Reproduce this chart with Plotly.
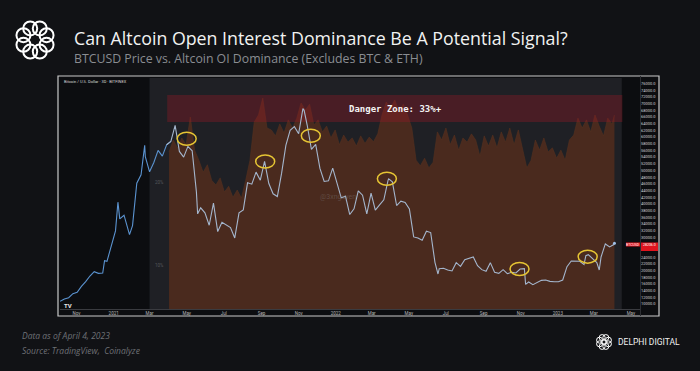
import numpy as np
import pandas as pd
import plotly.graph_objects as go

W, H = 700, 371

# ---------------- data ----------------
# BTCUSD weekly closes (k USD), starting 2020-10-05
btc_start = "2020-10-05"
btc_weekly = [
    10.8, 11.5, 11.9, 13.1, 13.5, 15.3, 16.7, 18.4, 19.7, 19.2, 19.3, 22.8, 27.0,
    31.9, 35.5, 36.6, 32.3, 33.5, 46.2, 48.7, 54.1, 49.6, 52.4, 56.0, 54.3, 57.7,
    58.7, 63.5, 55.7, 54.0, 57.2, 55.9, 43.5, 38.8, 37.3, 33.6, 40.2, 31.7, 34.5,
    33.8, 32.9, 29.8, 37.3, 38.2, 46.3, 45.9, 49.5, 47.1, 52.7, 46.1, 43.0, 42.2,
    49.2, 57.5, 62.0, 63.1, 61.0, 68.5, 63.6, 56.3, 57.8, 50.6, 46.7, 46.9, 50.7,
    46.4, 41.8, 42.3, 36.8, 38.5, 43.9, 42.6, 37.0, 43.2, 38.1, 39.7, 41.2, 47.1,
    46.6, 39.5, 40.8, 40.4, 38.5, 30.1, 29.8, 29.1, 31.8, 31.4, 22.5, 20.6, 20.7,
    20.2, 19.9, 22.4, 21.3, 23.3, 23.8, 24.1, 21.5, 20.3, 19.8, 22.4, 19.5, 19.2,
    20.3, 19.1, 19.5, 19.3, 20.5, 20.6, 16.6, 15.8, 16.4, 17.1, 17.2, 16.8, 16.7,
    16.7, 17.2, 21.2, 22.9, 22.8, 22.8, 21.8, 24.8, 23.5, 22.4, 24.1, 28.0, 27.1,
    27.8,
]
btc_extra_dates = ["2020-12-17", "2021-01-08", "2021-01-27", "2021-02-21", "2021-05-19",
                   "2021-11-10", "2022-03-29", "2022-06-18", "2022-11-09", "2023-02-16",
                   "2023-03-10", "2023-04-04"]
btc_extra_price = [23.0, 40.5, 30.8, 57.5, 37.0, 68.0, 47.5, 19.0, 15.9, 24.5, 20.2, 28.2]

# Altcoin OI dominance (%), weekly from 2021-04-02, last point 2023-04-04
oi_start = "2021-04-02"
oi_weekly = [
    25.7, 28.4, 26.6, 28.9, 27.3, 34.4, 26.1, 24.0, 21.7, 23.1, 20.3, 19.5, 20.7,
    18.4, 19.3, 17.6, 18.7, 17.5, 20.3, 24.0, 33.0, 35.0, 40.3, 31.4, 30.9, 29.4,
    32.5, 30.1, 33.6, 31.4, 34.1, 38.7, 36.5, 38.3, 32.2, 33.6, 30.4, 31.9, 28.9,
    30.9, 27.3, 29.6, 27.9, 28.9, 27.0, 29.4, 27.6, 29.1, 28.0, 29.9, 35.0, 39.0,
    37.1, 39.7, 35.9, 38.3, 35.0, 31.4, 24.0, 22.9, 24.4, 22.5, 23.6, 30.4, 28.4,
    31.4, 27.3, 29.6, 26.1, 28.9, 27.9, 29.9, 28.4, 24.8, 29.4, 27.0, 29.6, 26.6,
    30.4, 27.9, 31.4, 27.3, 30.9, 26.1, 22.5, 24.0, 28.4, 26.1, 28.9, 25.7, 26.6,
    24.4, 26.1, 24.0, 28.4, 29.6, 34.1, 31.4, 33.6, 30.4, 35.0, 31.9, 29.4, 34.1,
    32.5,
]
oi_last_date, oi_last_value = "2023-04-04", 35.0

danger_low, danger_high = 33.0, 41.4
danger_start, danger_end = "2021-03-30", "2023-04-17"
panel_start, panel_end = "2021-03-01", "2023-04-16"

# highlighted local tops (date, price k)
hl_dates = ["2021-05-01", "2021-09-07", "2021-11-21", "2022-03-26", "2022-10-30", "2023-02-19"]
hl_price = [59.5, 52.7, 60.4, 47.5, 20.5, 24.2]

last_price = 28206.0

x_tickvals = ["2020-11-01", "2021-01-01", "2021-03-01", "2021-05-01", "2021-07-01",
              "2021-09-01", "2021-11-01", "2022-01-01", "2022-03-01", "2022-05-01",
              "2022-07-01", "2022-09-01", "2022-11-01", "2023-01-01", "2023-03-01",
              "2023-05-01"]
x_ticktext = ["Nov", "2021", "Mar", "May", "Jul", "Sep", "Nov", "2022", "Mar", "May",
              "Jul", "Sep", "Nov", "2023", "Mar", "May"]
price_ticks = [10, 12, 14, 16, 18, 20, 22, 24, 30, 32, 34, 36, 38, 40, 42, 44, 46, 48,
               50, 52, 54, 56, 58, 60, 62, 64, 66, 68, 70, 72, 74, 76]
oi_labels = [10, 20]

# ---------------- build series ----------------
btc_dates = list(pd.date_range(btc_start, periods=len(btc_weekly), freq="7D"))
bdf = pd.DataFrame({"d": btc_dates + list(pd.to_datetime(btc_extra_dates)),
                    "p": btc_weekly + btc_extra_price}).sort_values("d")
bdf = bdf.drop_duplicates("d", keep="last").reset_index(drop=True)
split = pd.Timestamp(oi_start)
seg1 = bdf[bdf["d"] <= split]
seg1 = pd.concat([seg1, bdf[bdf["d"] > split].head(1)])
seg2 = bdf[bdf["d"] >= seg1["d"].iloc[-2]]

oi_dates = list(pd.date_range(oi_start, periods=len(oi_weekly), freq="7D")) + [pd.Timestamp(oi_last_date)]
oi_vals = oi_weekly + [oi_last_value]

def px(x):
    return x / W

def py(y):
    return 1 - y / H

fig = go.Figure()
fig.add_trace(go.Scatter(x=[oi_dates[0], oi_dates[-1]], y=[5, 5], mode="lines",
                         line=dict(width=0, color="#4b2b1f"), hoverinfo="skip", yaxis="y"))
fig.add_trace(go.Scatter(x=oi_dates, y=oi_vals, mode="lines", fill="tonexty",
                         fillcolor="#4a2a1e", line=dict(width=0.6, color="#55301f"),
                         hoverinfo="skip", yaxis="y"))
fig.add_trace(go.Scatter(x=[danger_start, danger_end], y=[danger_low, danger_low], mode="lines",
                         line=dict(width=0), hoverinfo="skip", yaxis="y"))
fig.add_trace(go.Scatter(x=[danger_start, danger_end], y=[danger_high, danger_high], mode="lines",
                         fill="tonexty", fillcolor="rgba(150,25,40,0.36)",
                         line=dict(width=0), hoverinfo="skip", yaxis="y"))
fig.add_trace(go.Scatter(x=seg1["d"], y=seg1["p"], mode="lines",
                         line=dict(width=1.1, color="#5b93d0"), hoverinfo="skip", yaxis="y2"))
fig.add_trace(go.Scatter(x=seg2["d"], y=seg2["p"], mode="lines",
                         line=dict(width=1.1, color="#a4b6cd"), hoverinfo="skip", yaxis="y2"))
fig.add_trace(go.Scatter(x=[bdf["d"].iloc[-1]], y=[bdf["p"].iloc[-1]], mode="markers",
                         marker=dict(size=3, color="#9fc0e8"), hoverinfo="skip", yaxis="y2"))

shapes = []
shapes.append(dict(type="rect", xref="paper", yref="paper", x0=px(58), x1=px(659), y0=py(316), y1=py(76),
                   fillcolor="#0c0d10", line=dict(color="#c9c9c9", width=1.2), layer="below"))
shapes.append(dict(type="rect", xref="x", yref="paper", x0=panel_start, x1=panel_end,
                   y0=py(309), y1=py(78), fillcolor="#1f2025", line=dict(width=0), layer="below"))
shapes.append(dict(type="line", xref="paper", yref="paper", x0=px(640.5), x1=px(640.5), y0=py(316), y1=py(76),
                   line=dict(color="#2c2d32", width=1)))
shapes.append(dict(type="rect", xref="paper", yref="paper", x0=px(626), x1=px(640), y0=py(246.5), y1=py(242.5),
                   fillcolor="#e0141e", line=dict(width=0)))
shapes.append(dict(type="rect", xref="paper", yref="paper", x0=px(641), x1=px(658), y0=py(251), y1=py(242.5),
                   fillcolor="#e0141e", line=dict(width=0)))
for d, p in zip(hl_dates, hl_price):
    shapes.append(dict(type="circle", xref="x", yref="y2", xsizemode="pixel", ysizemode="pixel",
                       xanchor=d, yanchor=p, x0=-9.5, x1=9.5, y0=-6.5, y1=6.5,
                       line=dict(color="#e6c534", width=1.5)))

def ring(cx, cy, R, r, w):
    out = []
    for k in range(8):
        a = 2 * np.pi * k / 8 + np.pi / 8
        x = cx + R * np.cos(a)
        y = cy + R * np.sin(a)
        out.append(dict(type="circle", xref="paper", yref="paper",
                        x0=px(x - r), x1=px(x + r), y0=py(y + r), y1=py(y - r),
                        line=dict(color="white", width=w)))
    return out

shapes += ring(35, 40, 12.5, 7, 2.0)
shapes += ring(604, 342, 4.8, 3.0, 1.0)

annotations = [
    dict(x=px(72), y=py(38), xref="paper", yref="paper", xanchor="left", yanchor="middle",
         text="Can Altcoin Open Interest Dominance Be A Potential Signal?", showarrow=False,
         font=dict(family="Open Sans", size=17.8, color="#f2f2f2")),
    dict(x=px(72), y=py(58), xref="paper", yref="paper", xanchor="left", yanchor="middle",
         text="BTCUSD Price vs. Altcoin OI Dominance (Excludes BTC &amp; ETH)", showarrow=False,
         font=dict(family="Open Sans", size=12.3, color="#8a8d92")),
    dict(x=px(395), y=py(109), xref="paper", yref="paper", xanchor="center", yanchor="middle",
         text="<b>Danger Zone: 33%+</b>", showarrow=False,
         font=dict(family="DejaVu Sans Mono", size=9, color="#f4f4f4")),
    dict(x=px(62), y=py(81), xref="paper", yref="paper", xanchor="left", yanchor="middle",
         text="Bitcoin / U.S. Dollar · 3D · BITFINEX", showarrow=False,
         font=dict(family="Roboto", size=4, color="#d8d8d8")),
    dict(x=px(62), y=py(305), xref="paper", yref="paper", xanchor="left", yanchor="middle",
         text="<b>TV</b>", showarrow=False, font=dict(family="Roboto", size=6, color="#e8e8e8")),
    dict(x=px(318), y=py(197), xref="paper", yref="paper", xanchor="left", yanchor="middle",
         text="@3xnguyen", showarrow=False, font=dict(family="Roboto", size=7, color="rgba(140,140,140,0.35)")),
    dict(x=px(20), y=py(335), xref="paper", yref="paper", xanchor="left", yanchor="middle",
         text="<i>Data as of April 4, 2023</i>", showarrow=False,
         font=dict(family="Open Sans", size=8.5, color="#6e7176")),
    dict(x=px(20), y=py(350), xref="paper", yref="paper", xanchor="left", yanchor="middle",
         text="<i>Source: TradingView,  Coinalyze</i>", showarrow=False,
         font=dict(family="Open Sans", size=8.5, color="#6e7176")),
    dict(x=px(616), y=py(342), xref="paper", yref="paper", xanchor="left", yanchor="middle",
         text="DELPHI DIGITAL", showarrow=False,
         font=dict(family="Roboto", size=8.5, color="#f0f0f0")),
    dict(x=px(633), y=py(244.5), xref="paper", yref="paper", xanchor="center", yanchor="middle",
         text="BTCUSD", showarrow=False, font=dict(family="Roboto", size=3.5, color="white")),
    dict(x=px(649.5), y=py(245), xref="paper", yref="paper", xanchor="center", yanchor="middle",
         text=f"{last_price:.1f}", showarrow=False, font=dict(family="Roboto", size=3.5, color="white")),
]
for v in oi_labels:
    annotations.append(dict(x=px(153), y=np.log10(v), xref="paper", yref="y", xanchor="left",
                            yanchor="middle", text=f"{v}%", showarrow=False,
                            font=dict(family="Roboto", size=4.5, color="#55575c")))

fig.update_layout(
    width=W, height=H, margin=dict(l=0, r=0, t=0, b=0),
    paper_bgcolor="#111215", plot_bgcolor="rgba(0,0,0,0)", showlegend=False,
    xaxis=dict(domain=[px(60), px(640)], type="date",
               range=["2020-10-04 19:00", "2023-05-16"],
               tickvals=x_tickvals, ticktext=x_ticktext, ticks="",
               tickfont=dict(family="Roboto", size=4.5, color="#b5b5b5"),
               showgrid=False, zeroline=False, showline=True, linecolor="#3a3b40", linewidth=1),
    yaxis=dict(domain=[(H - 309) / H, (H - 78) / H], type="log", range=[0.8404, 1.6783],
               showgrid=False, showticklabels=False, zeroline=False),
    yaxis2=dict(overlaying="y", side="right", anchor="x", range=[8.52, 77.68],
                tickvals=price_ticks, ticktext=[f"{v * 1000:.1f}" for v in price_ticks],
                tickfont=dict(family="Roboto", size=4, color="#d0d0d0"), ticks="",
                showgrid=False, zeroline=False),
    shapes=shapes, annotations=annotations,
)

fig.write_html("out.html", config={"displayModeBar": False},
               post_script="document.body.style.margin='0px';document.body.style.padding='0px';"
                           "document.body.style.background='#111215';")
